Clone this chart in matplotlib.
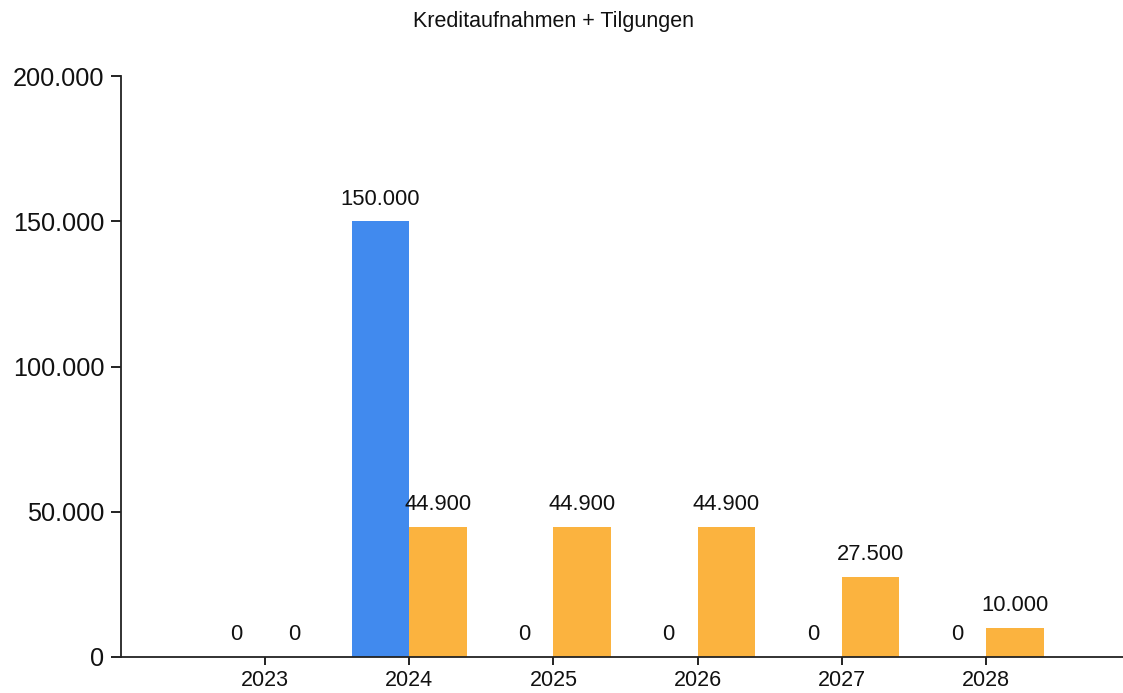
import matplotlib
matplotlib.use("Agg")
import matplotlib.pyplot as plt
from matplotlib.ticker import FuncFormatter, FixedLocator

plt.rcParams['font.family'] = ['Liberation Sans', 'DejaVu Sans']

title = "Kreditaufnahmen + Tilgungen"
years = ["2023", "2024", "2025", "2026", "2027", "2028"]
kreditaufnahmen = [0, 150000, 0, 0, 0, 0]
tilgungen = [0, 44900, 44900, 44900, 27500, 10000]
y_ticks = [0, 50000, 100000, 150000, 200000]

blue = "#418AEE"
orange = "#FBB33F"

W, H = 1123, 693
fig = plt.figure(figsize=(W / 100, H / 100), dpi=100)
left, right, bottom, top = 121, 1123, 657, 76
ax = fig.add_axes([left / W, 1 - bottom / H, (right - left) / W, (bottom - top) / H])

def fmt(v):
    return f"{int(round(v)):,}".replace(",", ".")

x = list(range(len(years)))
bw = 0.4
xb = [i - bw / 2 for i in x]
xo = [i + bw / 2 for i in x]
ax.bar(xb, kreditaufnahmen, width=bw, color=blue)
ax.bar(xo, tilgungen, width=bw, color=orange)

for xs, vals in ((xb, kreditaufnahmen), (xo, tilgungen)):
    for xi, v in zip(xs, vals):
        ax.annotate(fmt(v), (xi, v), xytext=(0, 16), textcoords="offset points",
                    ha="center", va="center", fontsize=15.8, color="#111111")

ax.set_xlim(-1, (right - 266) / 144)
ax.set_ylim(0, 200000)
ax.yaxis.set_major_locator(FixedLocator(y_ticks))
ax.yaxis.set_major_formatter(FuncFormatter(lambda v, p: fmt(v)))
ax.set_xticks(x)
ax.set_xticklabels(years)
ax.tick_params(axis="y", labelsize=18.2, length=7, width=1.3, colors="#111111", pad=5)
ax.tick_params(axis="x", labelsize=15.5, length=6, width=1.3, colors="#111111", pad=3)
for s in ("top", "right"):
    ax.spines[s].set_visible(False)
for s in ("left", "bottom"):
    ax.spines[s].set_linewidth(1.3)
    ax.spines[s].set_color("#222222")

fig.text(553.5 / W, 1 - 21 / H, title, ha="center", va="center", fontsize=15.5, color="#111111")

fig.savefig("out.png", dpi=100)
